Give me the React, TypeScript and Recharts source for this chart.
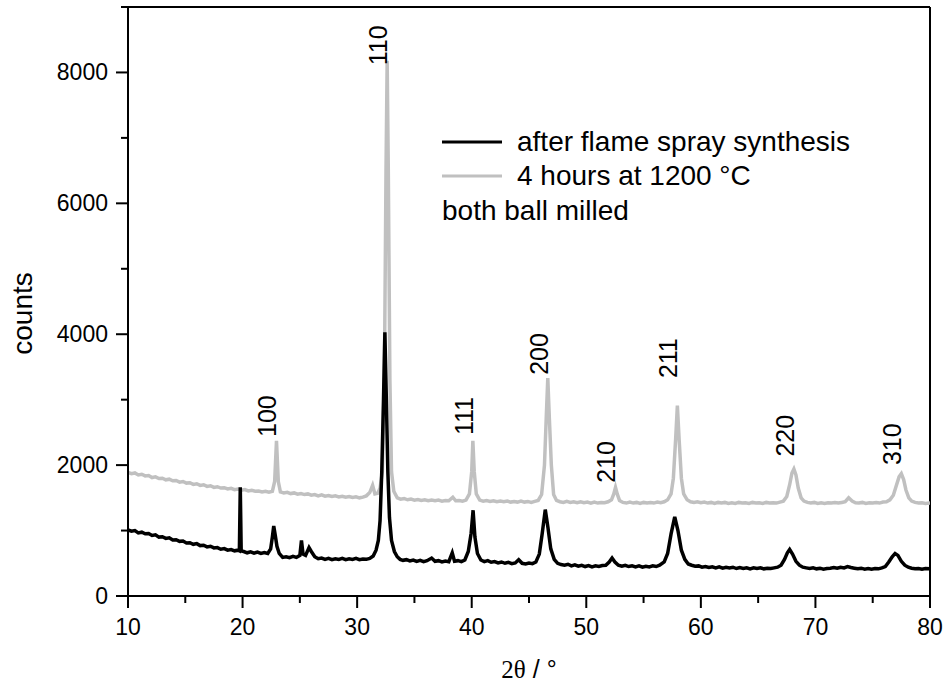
import { LineChart, Line, XAxis, YAxis, Legend, ReferenceLine, ReferenceDot } from 'recharts';

const SANS = '"Liberation Sans", Arial, sans-serif';
const SERIF = '"Liberation Serif", "Times New Roman", serif';

// XRD patterns, [2theta, counts]
const afterFlameSpray: [number, number][] = [
  [10.0, 1010], [10.3, 990], [10.6, 1000], [10.9, 965], [11.2, 975], [11.5, 950], [11.8, 955], [12.1, 925],
  [12.4, 935], [12.7, 900], [13.0, 905], [13.3, 880], [13.6, 890], [13.9, 855], [14.2, 860], [14.5, 835],
  [14.8, 840], [15.1, 810], [15.4, 815], [15.7, 790], [16.0, 800], [16.3, 770], [16.6, 775], [16.9, 750],
  [17.2, 760], [17.5, 735], [17.8, 740], [18.1, 715], [18.4, 725], [18.7, 700], [19.0, 710], [19.3, 690],
  [19.6, 700], [19.72, 690], [19.8, 1660], [19.88, 690], [20.1, 680], [20.4, 660], [20.7, 675], [21.0, 655],
  [21.3, 670], [21.6, 650], [21.9, 665], [22.2, 650], [22.45, 720], [22.6, 900], [22.72, 1070], [22.85, 930],
  [23.0, 760], [23.2, 650], [23.5, 590], [23.8, 600], [24.1, 585], [24.4, 605], [24.7, 590], [25.0, 620],
  [25.14, 850], [25.28, 640], [25.5, 620], [25.8, 740], [26.0, 680], [26.3, 600], [26.6, 570], [26.9, 580],
  [27.2, 560], [27.5, 575], [27.8, 555], [28.1, 570], [28.4, 560], [28.7, 575], [29.0, 555], [29.3, 570],
  [29.6, 560], [29.9, 575], [30.2, 555], [30.5, 565], [30.8, 560], [31.1, 575], [31.4, 610], [31.65, 700],
  [31.85, 850], [32.0, 1150], [32.15, 1900], [32.3, 3000], [32.42, 4030], [32.55, 3000], [32.68, 1900], [32.82, 1200],
  [33.0, 850], [33.25, 680], [33.5, 600], [33.75, 560], [34.0, 545], [34.3, 555], [34.6, 535], [34.9, 550],
  [35.2, 530], [35.5, 545], [35.8, 525], [36.1, 540], [36.5, 580], [36.8, 530], [37.1, 540], [37.4, 520],
  [37.7, 535], [38.0, 525], [38.3, 660], [38.5, 530], [38.8, 540], [39.1, 525], [39.4, 550], [39.7, 680],
  [39.95, 960], [40.12, 1310], [40.28, 900], [40.5, 650], [40.8, 550], [41.1, 525], [41.4, 540], [41.7, 515],
  [42.0, 525], [42.3, 505], [42.6, 520], [42.9, 500], [43.2, 515], [43.5, 495], [43.8, 505], [44.1, 555],
  [44.4, 500], [44.7, 490], [45.0, 505], [45.3, 495], [45.6, 520], [45.9, 640], [46.15, 950], [46.42, 1320],
  [46.65, 1050], [46.9, 720], [47.2, 560], [47.5, 500], [47.8, 480], [48.1, 470], [48.4, 485], [48.7, 460],
  [49.0, 475], [49.3, 455], [49.6, 470], [49.9, 450], [50.2, 465], [50.5, 445], [50.8, 460], [51.1, 450],
  [51.4, 465], [51.7, 470], [52.0, 520], [52.25, 580], [52.5, 520], [52.8, 470], [53.1, 455], [53.4, 470],
  [53.7, 450], [54.0, 460], [54.3, 445], [54.6, 460], [54.9, 440], [55.2, 455], [55.5, 445], [55.8, 460],
  [56.1, 450], [56.4, 470], [56.8, 520], [57.1, 650], [57.4, 950], [57.72, 1210], [58.0, 1000], [58.3, 700],
  [58.6, 560], [58.9, 490], [59.2, 470], [59.5, 455], [59.8, 460], [60.1, 440], [60.4, 450], [60.7, 435],
  [61.0, 445], [61.3, 430], [61.6, 445], [61.9, 425], [62.2, 440], [62.5, 430], [62.8, 440], [63.1, 420],
  [63.4, 435], [63.7, 420], [64.0, 430], [64.3, 415], [64.6, 430], [64.9, 420], [65.2, 430], [65.5, 415],
  [65.8, 425], [66.1, 420], [66.4, 430], [66.7, 440], [67.0, 470], [67.3, 560], [67.55, 660], [67.75, 710],
  [68.0, 640], [68.3, 530], [68.6, 470], [68.9, 440], [69.2, 430], [69.5, 420], [69.8, 430], [70.1, 415],
  [70.4, 425], [70.7, 410], [71.0, 420], [71.3, 425], [71.6, 435], [71.9, 425], [72.2, 440], [72.5, 430],
  [72.8, 450], [73.1, 435], [73.4, 425], [73.7, 415], [74.0, 425], [74.3, 410], [74.6, 420], [74.9, 410],
  [75.2, 420], [75.5, 415], [75.8, 430], [76.1, 450], [76.4, 520], [76.7, 600], [76.95, 650], [77.2, 620],
  [77.5, 530], [77.8, 470], [78.1, 440], [78.4, 425], [78.7, 415], [79.0, 420], [79.3, 410], [79.6, 420],
  [80.0, 415],
];

const annealed1200: [number, number][] = [
  [10.0, 1890], [10.3, 1870], [10.6, 1880], [10.9, 1850], [11.2, 1860], [11.5, 1835], [11.8, 1840], [12.1, 1810],
  [12.4, 1820], [12.7, 1795], [13.0, 1800], [13.3, 1775], [13.6, 1785], [13.9, 1760], [14.2, 1765], [14.5, 1740],
  [14.8, 1750], [15.1, 1725], [15.4, 1730], [15.7, 1705], [16.0, 1715], [16.3, 1690], [16.6, 1700], [16.9, 1675],
  [17.2, 1685], [17.5, 1660], [17.8, 1670], [18.1, 1650], [18.4, 1655], [18.7, 1635], [19.0, 1645], [19.3, 1625],
  [19.6, 1635], [19.9, 1615], [20.2, 1625], [20.5, 1605], [20.8, 1615], [21.1, 1600], [21.4, 1605], [21.7, 1590],
  [22.0, 1600], [22.3, 1585], [22.6, 1600], [22.8, 1750], [22.96, 2370], [23.12, 1750], [23.3, 1590], [23.6, 1575],
  [23.9, 1585], [24.2, 1565], [24.5, 1575], [24.8, 1555], [25.1, 1565], [25.4, 1550], [25.7, 1560], [26.0, 1540],
  [26.3, 1550], [26.6, 1530], [26.9, 1545], [27.2, 1525], [27.5, 1535], [27.8, 1520], [28.1, 1530], [28.4, 1515],
  [28.7, 1525], [29.0, 1510], [29.3, 1520], [29.6, 1505], [29.9, 1515], [30.2, 1500], [30.5, 1510], [30.8, 1530],
  [31.1, 1580], [31.35, 1690], [31.55, 1560], [31.8, 1570], [32.0, 1650], [32.2, 1900], [32.38, 3400], [32.52, 6500],
  [32.62, 8180], [32.72, 6500], [32.86, 3300], [33.0, 1900], [33.2, 1600], [33.5, 1500], [33.8, 1480], [34.1, 1490],
  [34.4, 1470], [34.7, 1480], [35.0, 1465], [35.3, 1475], [35.6, 1460], [35.9, 1470], [36.2, 1455], [36.5, 1465],
  [36.8, 1455], [37.1, 1465], [37.4, 1450], [37.7, 1460], [38.0, 1455], [38.35, 1510], [38.6, 1455], [38.9, 1460],
  [39.2, 1450], [39.5, 1465], [39.8, 1560], [40.0, 1900], [40.1, 2370], [40.22, 1900], [40.4, 1560], [40.7, 1465],
  [41.0, 1450], [41.3, 1460], [41.6, 1445], [41.9, 1455], [42.2, 1440], [42.5, 1450], [42.8, 1440], [43.1, 1450],
  [43.4, 1435], [43.7, 1445], [44.0, 1435], [44.3, 1450], [44.6, 1435], [44.9, 1445], [45.2, 1430], [45.5, 1445],
  [45.8, 1460], [46.1, 1550], [46.35, 2000], [46.5, 2700], [46.64, 3330], [46.78, 2700], [46.95, 2000], [47.15, 1550],
  [47.4, 1460], [47.7, 1440], [48.0, 1430], [48.3, 1445], [48.6, 1430], [48.9, 1440], [49.2, 1425], [49.5, 1440],
  [49.8, 1425], [50.1, 1435], [50.4, 1420], [50.7, 1435], [51.0, 1420], [51.3, 1430], [51.6, 1425], [51.9, 1440],
  [52.2, 1470], [52.4, 1560], [52.55, 1660], [52.7, 1560], [52.9, 1460], [53.2, 1430], [53.5, 1420], [53.8, 1435],
  [54.1, 1420], [54.4, 1430], [54.7, 1415], [55.0, 1430], [55.3, 1420], [55.6, 1430], [55.9, 1420], [56.2, 1435],
  [56.5, 1425], [56.8, 1440], [57.1, 1470], [57.4, 1560], [57.6, 1800], [57.8, 2400], [57.95, 2910], [58.1, 2400],
  [58.3, 1800], [58.5, 1560], [58.8, 1470], [59.1, 1440], [59.4, 1430], [59.7, 1440], [60.0, 1425], [60.3, 1435],
  [60.6, 1420], [60.9, 1430], [61.2, 1415], [61.5, 1430], [61.8, 1420], [62.1, 1430], [62.4, 1415], [62.7, 1425],
  [63.0, 1415], [63.3, 1430], [63.6, 1420], [63.9, 1425], [64.2, 1415], [64.5, 1430], [64.8, 1420], [65.1, 1425],
  [65.4, 1415], [65.7, 1430], [66.0, 1420], [66.3, 1425], [66.6, 1420], [66.9, 1435], [67.2, 1450], [67.5, 1520],
  [67.75, 1700], [67.95, 1880], [68.12, 1940], [68.3, 1850], [68.5, 1650], [68.75, 1500], [69.0, 1450], [69.3, 1430],
  [69.6, 1420], [69.9, 1430], [70.2, 1415], [70.5, 1425], [70.8, 1415], [71.1, 1425], [71.4, 1420], [71.7, 1430],
  [72.0, 1420], [72.3, 1430], [72.6, 1440], [72.9, 1500], [73.2, 1450], [73.5, 1425], [73.8, 1420], [74.1, 1430],
  [74.4, 1415], [74.7, 1425], [75.0, 1420], [75.3, 1430], [75.6, 1420], [75.9, 1435], [76.2, 1440], [76.5, 1470],
  [76.8, 1540], [77.05, 1680], [77.3, 1820], [77.5, 1870], [77.7, 1780], [77.9, 1620], [78.15, 1500], [78.4, 1450],
  [78.7, 1430], [79.0, 1420], [79.3, 1425], [79.6, 1415], [80.0, 1420],
];

// Miller indices of the reflections, where the label sits (bottom of the rotated text)
const peakIndex = ['100', '110', '111', '200', '210', '211', '220', '310'];
const peakTheta = [22.96, 32.62, 40.1, 46.64, 52.55, 57.95, 68.12, 77.5];
const peakLabelCounts = [2430, 8110, 2460, 3380, 1730, 3330, 2130, 2000];

const xTicks = [10, 15, 20, 25, 30, 35, 40, 45, 50, 55, 60, 65, 70, 75, 80];
const yTicks = [0, 1000, 2000, 3000, 4000, 5000, 6000, 7000, 8000, 9000];

const seriesNames = ['after flame spray synthesis', '4 hours at 1200 °C'];
const legendNote = 'both ball milled';

const toRows = (pts: [number, number][]) => pts.map(([theta, counts]) => ({ theta, counts }));

const XTick = (props: any) => {
  const { x, y, payload } = props;
  const major = payload.value % 10 === 0;
  return (
    <g>
      <line x1={x} x2={x} y1={y} y2={y + (major ? 12 : 7)} stroke="#000" strokeWidth={2} />
      {major && (
        <text x={x} y={y + 39} textAnchor="middle" fontSize={23} fontFamily={SANS} fill="#000">
          {payload.value}
        </text>
      )}
    </g>
  );
};

const YTick = (props: any) => {
  const { x, y, payload } = props;
  const major = payload.value % 2000 === 0;
  return (
    <g>
      <line x1={x - (major ? 12 : 7)} x2={x} y1={y} y2={y} stroke="#000" strokeWidth={2} />
      {major && (
        <text x={x - 20} y={y + 8} textAnchor="end" fontSize={23} fontFamily={SANS} fill="#000">
          {payload.value}
        </text>
      )}
    </g>
  );
};

const LegendBox = ({ payload }: any) => {
  const items = seriesNames
    .map((n) => (payload || []).find((p: any) => p.value === n))
    .filter(Boolean);
  return (
    <svg width={450} height={115} style={{ display: 'block' }}>
      {items.map((item: any, i: number) => (
        <g key={item.value}>
          <line x1={4} x2={64} y1={24 + i * 34} y2={24 + i * 34} stroke={item.color} strokeWidth={3} />
          <text x={79} y={33 + i * 34} fontSize={28} fontFamily={SANS} fill="#000">
            {item.value}
          </text>
        </g>
      ))}
      <text x={4} y={102} fontSize={28} fontFamily={SANS} fill="#000">
        {legendNote}
      </text>
    </svg>
  );
};

export default function App() {
  return (
    <div style={{ position: 'fixed', left: 0, top: 0, width: 943, height: 686, background: '#fff' }}>
      <LineChart width={943} height={686} margin={{ top: 7, right: 13, bottom: 0, left: 0 }}>
        <XAxis
          dataKey="theta"
          type="number"
          domain={[10, 80]}
          ticks={xTicks}
          interval={0}
          height={90}
          tickSize={0}
          tickMargin={0}
          tickLine={false}
          tick={<XTick />}
          axisLine={{ stroke: '#000', strokeWidth: 2 }}
          allowDataOverflow
          label={(p: any) => (
            <text
              x={p.viewBox.x + p.viewBox.width / 2}
              y={p.viewBox.y + 82}
              textAnchor="middle"
              fontSize={25}
              fill="#000"
            >
              <tspan fontFamily={SERIF}>2θ</tspan>
              <tspan fontFamily={SANS}> / °</tspan>
            </text>
          )}
        />
        <YAxis
          type="number"
          domain={[0, 9000]}
          ticks={yTicks}
          interval={0}
          width={128}
          tickSize={0}
          tickMargin={0}
          tickLine={false}
          tick={<YTick />}
          axisLine={{ stroke: '#000', strokeWidth: 2 }}
          allowDataOverflow
          label={(p: any) => {
            const cx = p.viewBox.x + 32;
            const cy = p.viewBox.y + p.viewBox.height / 2 + 12;
            return (
              <text
                x={cx}
                y={cy}
                transform={`rotate(-90 ${cx} ${cy})`}
                textAnchor="middle"
                fontSize={28}
                fontFamily={SANS}
                fill="#000"
              >
                counts
              </text>
            );
          }}
        />
        {/* frame */}
        <ReferenceLine y={9000} stroke="#000" strokeWidth={2} />
        <ReferenceLine x={80} stroke="#000" strokeWidth={2} />

        <Line
          data={toRows(annealed1200)}
          dataKey="counts"
          name={seriesNames[1]}
          type="linear"
          stroke="#c0c0c0"
          strokeWidth={3.5}
          dot={false}
          activeDot={false}
          isAnimationActive={false}
        />
        <Line
          data={toRows(afterFlameSpray)}
          dataKey="counts"
          name={seriesNames[0]}
          type="linear"
          stroke="#000"
          strokeWidth={3.5}
          dot={false}
          activeDot={false}
          isAnimationActive={false}
        />

        {peakIndex.map((label, i) => (
          <ReferenceDot
            key={label}
            x={peakTheta[i]}
            y={peakLabelCounts[i]}
            r={0}
            shape={(p: any) => (
              <text
                x={p.cx}
                y={p.cy}
                transform={`rotate(-90 ${p.cx} ${p.cy})`}
                textAnchor="start"
                fontSize={25}
                fontFamily={SANS}
                fill="#000"
              >
                {label}
              </text>
            )}
          />
        ))}

        <Legend
          layout="vertical"
          align="center"
          verticalAlign="middle"
          content={<LegendBox />}
          wrapperStyle={{ left: 438, top: 118, width: 450, height: 115 }}
        />
      </LineChart>
    </div>
  );
}
